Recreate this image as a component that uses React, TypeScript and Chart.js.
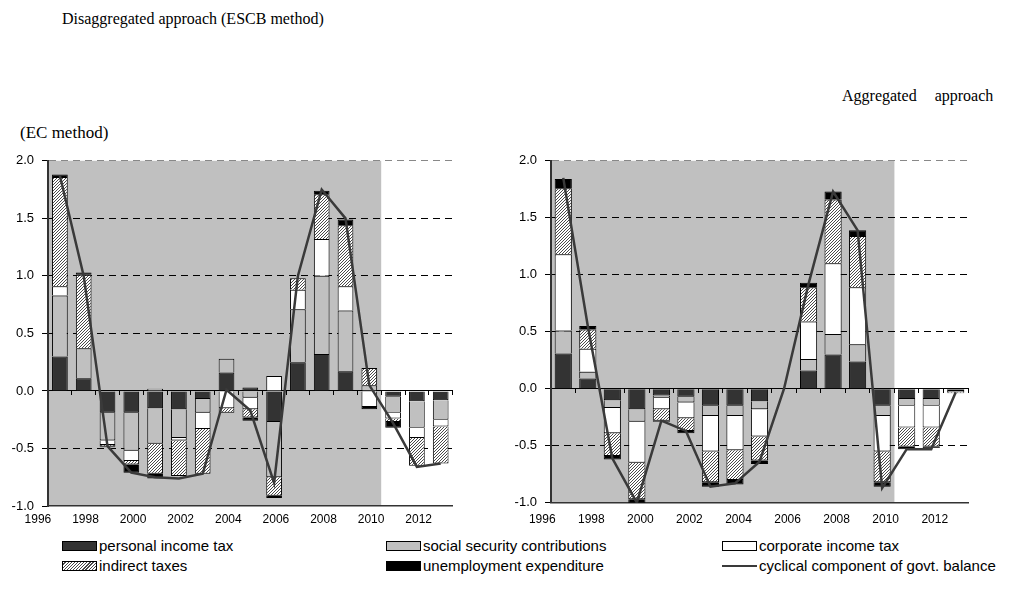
import React, { useEffect, useRef } from 'react';
import { Chart, registerables } from 'chart.js';

Chart.register(...registerables);

const years = ['1996', '1997', '1998', '1999', '2000', '2001', '2002', '2003', '2004', '2005', '2006', '2007', '2008', '2009', '2010', '2011', '2012'];
const yTicks = [-1, -0.5, 0, 0.5, 1, 1.5, 2];

// Disaggregated approach (ESCB method)
const pitL = [0.30, 0.11, -0.19, -0.19, -0.15, -0.16, -0.07, 0.16, 0.03, -0.27, 0.25, 0.32, 0.17, 0, -0.05, -0.09, -0.08];
const ssL = [0.53, 0.26, -0.24, -0.33, -0.31, -0.25, -0.12, 0.12, -0.06, -0.48, 0.46, 0.68, 0.53, 0.05, -0.14, -0.23, -0.17];
const corpL = [0.08, 0, -0.04, -0.09, 0.02, -0.02, -0.14, -0.15, -0.10, 0.13, 0.17, 0.32, 0.21, -0.14, -0.05, -0.09, -0.06];
const indL = [0.95, 0.64, -0.01, -0.03, -0.26, -0.31, -0.39, -0.04, -0.07, -0.16, 0.10, 0.39, 0.53, 0.15, -0.03, -0.24, -0.32];
const unempL = [0.02, 0.02, -0.01, -0.07, -0.04, 0, 0, 0, -0.03, -0.02, 0, 0.03, 0.05, -0.02, -0.05, 0, 0];
const lineL = [1.87, 1.00, -0.48, -0.71, -0.75, -0.76, -0.72, 0.01, -0.17, -0.80, 1.00, 1.75, 1.50, 0.05, -0.28, -0.66, -0.63];

// Aggregated approach (EC method)
const pitR = [0.31, 0.09, -0.10, -0.18, -0.06, -0.07, -0.15, -0.15, -0.11, 0, 0.16, 0.30, 0.24, -0.15, -0.09, -0.09, -0.02];
const ssR = [0.20, 0.06, -0.07, -0.11, -0.02, -0.05, -0.09, -0.09, -0.07, 0, 0.10, 0.18, 0.15, -0.09, -0.06, -0.06, -0.01];
const corpR = [0.67, 0.20, -0.22, -0.36, -0.10, -0.14, -0.31, -0.30, -0.24, 0, 0.33, 0.62, 0.50, -0.31, -0.19, -0.19, 0];
const indR = [0.58, 0.17, -0.20, -0.32, -0.10, -0.11, -0.27, -0.26, -0.21, 0, 0.30, 0.56, 0.45, -0.27, -0.17, -0.17, -0.01];
const unempR = [0.08, 0.03, -0.03, -0.04, -0.01, -0.02, -0.04, -0.04, -0.03, 0, 0.04, 0.07, 0.05, -0.04, -0.02, -0.01, 0];
const lineR = [1.85, 0.55, -0.61, -1.00, -0.28, -0.37, -0.86, -0.83, -0.64, 0.00, 0.92, 1.73, 1.39, -0.87, -0.53, -0.53, -0.03];

const seriesNames = ['personal income tax', 'social security contributions', 'corporate income tax', 'indirect taxes', 'unemployment expenditure', 'cyclical component of govt. balance'];

const SANS = '"Liberation Sans", Arial, sans-serif';
const SERIF = '"Liberation Serif", "Times New Roman", serif';
const GREY = '#c0c0c0';

function makeHatch(): CanvasPattern | string {
  const c = document.createElement('canvas');
  c.width = 3;
  c.height = 3;
  const g = c.getContext('2d');
  if (!g) return '#bbbbbb';
  g.fillStyle = '#ffffff';
  g.fillRect(0, 0, 3, 3);
  g.fillStyle = '#4a4a4a';
  for (let x = 0; x < 3; x++) for (let y = 0; y < 3; y++) if ((x + y) % 3 === 2) g.fillRect(x, y, 1, 1);
  return g.createPattern(c, 'repeat') || '#bbbbbb';
}

const shadePlugin = {
  id: 'shade',
  beforeDraw(chart: any) {
    const { ctx, chartArea, scales } = chart;
    const xEnd = scales.x.getPixelForValue(13.5);
    ctx.save();
    ctx.fillStyle = GREY;
    ctx.fillRect(chartArea.left, chartArea.top, xEnd - chartArea.left, chartArea.bottom - chartArea.top);
    ctx.restore();
  },
};

type Panel = {
  pit: number[]; ss: number[]; corp: number[]; ind: number[]; unemp: number[]; line: number[];
  padTop: number; padRight: number; yW: number; xH: number; xPad: number; labelOffset: number; barPct: number;
};

function buildConfig(p: Panel, hatch: any): any {
  const bar = (label: string, data: number[], bg: any) => ({
    type: 'bar', label, data, backgroundColor: bg, borderColor: '#000', borderWidth: 1,
    barPercentage: p.barPct, categoryPercentage: 1, order: 1,
  });
  return {
    type: 'bar',
    data: {
      labels: years,
      datasets: [
        { type: 'line', label: seriesNames[5], data: p.line, borderColor: '#3a3a3a', borderWidth: 2.5, pointRadius: 0, tension: 0, fill: false, order: 0 },
        bar(seriesNames[0], p.pit, '#333333'),
        bar(seriesNames[1], p.ss, GREY),
        bar(seriesNames[2], p.corp, '#ffffff'),
        bar(seriesNames[3], p.ind, hatch),
        bar(seriesNames[4], p.unemp, '#000000'),
      ],
    },
    options: {
      responsive: false,
      animation: false,
      layout: { padding: { top: p.padTop, right: p.padRight, left: 0, bottom: 0 } },
      plugins: { legend: { display: false }, tooltip: { enabled: false } },
      scales: {
        x: {
          stacked: true,
          offset: true,
          grid: { display: false, drawTicks: false },
          border: { display: true, color: '#333', width: 1.5 },
          ticks: {
            autoSkip: false, maxRotation: 0, minRotation: 0, padding: p.xPad, labelOffset: p.labelOffset,
            color: '#000', font: { family: SANS, size: 12 },
            callback: (_v: any, i: number) => (i % 2 === 0 ? years[i] : ''),
          },
          afterFit: (s: any) => { s.height = p.xH; },
        },
        x0: {
          type: 'category',
          position: { y: 0 },
          offset: true,
          grid: { offset: true, drawOnChartArea: false, drawTicks: true, tickLength: 4, color: '#000', lineWidth: 1 },
          border: { display: true, color: '#000', width: 1 },
          ticks: { display: false },
        },
        y: {
          stacked: true,
          min: -1,
          max: 2,
          afterBuildTicks: (s: any) => { s.ticks = yTicks.map((v) => ({ value: v })); },
          ticks: {
            color: '#000', font: { family: SANS, size: 13 }, padding: 8,
            callback: (v: any) => Number(v).toFixed(1),
          },
          grid: {
            drawTicks: true, tickLength: 6, tickColor: '#000', lineWidth: 1,
            color: (c: any) => {
              const v = c.tick ? c.tick.value : null;
              if (v === 2) return '#888888';
              if (v === 0.5 || v === 1 || v === 1.5 || v === -0.5) return '#000000';
              return 'rgba(0,0,0,0)';
            },
          },
          border: { display: true, color: '#333', width: 2, dash: [7, 5] },
          afterFit: (s: any) => { s.width = p.yW; },
        },
      },
    },
    plugins: [shadePlugin],
  };
}

const leftPanel: Panel = {
  pit: pitL, ss: ssL, corp: corpL, ind: indL, unemp: unempL, line: lineL,
  padTop: 12, padRight: 17.4, yW: 48, xH: 29, xPad: 6, labelOffset: -22, barPct: 0.66,
};
const rightPanel: Panel = {
  pit: pitR, ss: ssR, corp: corpR, ind: indR, unemp: unempR, line: lineR,
  padTop: 12.3, padRight: 12, yW: 51, xH: 32.3, xPad: 10, labelOffset: -21, barPct: 0.7,
};

function ChartCanvas({ panel, left, width }: { panel: Panel; left: number; width: number }) {
  const ref = useRef<HTMLCanvasElement | null>(null);
  useEffect(() => {
    if (!ref.current) return;
    const chart = new Chart(ref.current, buildConfig(panel, makeHatch()));
    return () => chart.destroy();
  }, [panel]);
  return (
    <canvas ref={ref} width={width} height={390}
      style={{ position: 'absolute', left, top: 145, width, height: 390 }} />
  );
}

const hatchCss = 'repeating-linear-gradient(135deg, #ffffff 0px, #ffffff 1.4px, #4a4a4a 1.4px, #4a4a4a 2.2px)';

function LegendItem({ x, y, kind, text }: { x: number; y: number; kind: string; text: string }) {
  let swatch: React.ReactNode;
  if (kind === 'line') {
    swatch = <div style={{ position: 'absolute', left: 0, top: 4, width: 35, height: 2, background: '#3a3a3a' }} />;
  } else {
    const bg = kind === 'pit' ? '#333333' : kind === 'ss' ? GREY : kind === 'corp' ? '#ffffff' : kind === 'unemp' ? '#000000' : hatchCss;
    swatch = <div style={{ position: 'absolute', left: 0, top: 0, width: 33, height: 8, border: '1px solid #000', background: bg }} />;
  }
  return (
    <div style={{ position: 'absolute', left: x, top: y - 5, height: 10 }}>
      {swatch}
      <div style={{ position: 'absolute', left: 37, top: -4, whiteSpace: 'nowrap', font: `15px ${SANS}`, lineHeight: '18px', color: '#000' }}>{text}</div>
    </div>
  );
}

export default function App() {
  return (
    <div style={{ position: 'fixed', left: 0, top: 0, width: 1014, height: 609, background: '#fff', overflow: 'hidden' }}>
      <div style={{ position: 'absolute', left: 62, top: 10, font: `16px ${SERIF}`, whiteSpace: 'pre' }}>Disaggregated approach (ESCB method)</div>
      <div style={{ position: 'absolute', left: 842, top: 87, font: `16px ${SERIF}`, whiteSpace: 'pre', wordSpacing: '14px' }}>Aggregated approach</div>
      <div style={{ position: 'absolute', left: 20, top: 123, font: `17px ${SERIF}`, whiteSpace: 'pre' }}>(EC method)</div>
      <ChartCanvas panel={leftPanel} left={0} width={470} />
      <ChartCanvas panel={rightPanel} left={500} width={480} />
      <LegendItem x={62} y={546} kind="pit" text={seriesNames[0]} />
      <LegendItem x={386} y={546} kind="ss" text={seriesNames[1]} />
      <LegendItem x={722} y={546} kind="corp" text={seriesNames[2]} />
      <LegendItem x={62} y={566} kind="ind" text={seriesNames[3]} />
      <LegendItem x={386} y={566} kind="unemp" text={seriesNames[4]} />
      <LegendItem x={722} y={566} kind="line" text={seriesNames[5]} />
    </div>
  );
}
